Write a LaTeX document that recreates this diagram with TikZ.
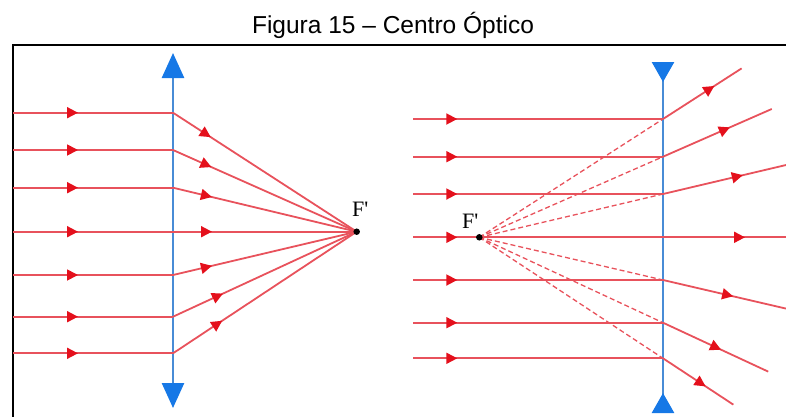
\documentclass[tikz,border=0pt]{standalone}
\usepackage{fontspec}
\setmainfont{Liberation Serif}
\newfontfamily\titulofont{Liberation Sans}
\usetikzlibrary{arrows.meta,calc,decorations.markings}
\definecolor{raio}{RGB}{232,82,92}
\definecolor{ponta}{RGB}{228,16,28}
\definecolor{lente}{RGB}{72,140,214}
\definecolor{setaazul}{RGB}{22,120,230}
\tikzset{
  raio/.style={draw=raio,line width=1.8pt},
  tracejado/.style={draw=raio,line width=1.3pt,dash pattern=on 5pt off 3pt},
  seta/.style={postaction={decorate},decoration={markings,
      mark=at position #1 with {\arrow{Triangle[length=11pt,width=11pt,color=ponta]}}}},
  eixo/.style={draw=lente,line width=2.6pt},
  foco/.style={circle,fill=black,inner sep=0pt,minimum size=6.5pt},
  rotulo/.style={font=\fontsize{22}{22}\selectfont,inner sep=0pt,anchor=base west},
}
\begin{document}
\begin{tikzpicture}[x=1pt,y=-1pt]
  \useasboundingbox (0,0) rectangle (786,416);
  \node[font=\titulofont\fontsize{24.5}{26}\selectfont,anchor=base] (titulo) at (393,33)
    {Figura 15 – Centro Óptico};
  \draw[line width=1.8pt] (13,420) -- (13,45) -- (790,45);

  % lente convergente
  \coordinate (F1) at (356.7,231.7);
  \draw[eixo,{Triangle[length=25pt,width=22pt,color=setaazul]}-{Triangle[length=25pt,width=22pt,color=setaazul]}]
    (173,408) -- (173,53);
  \foreach \y/\d [count=\i] in {112.7/45,150/42,187.7/40,231.7/39,275/40,316.7/55,353.3/59} {
    \coordinate (a\i) at (13,\y);
    \coordinate (l\i) at (173,\y);
    \path[raio,seta=65pt] (a\i) -- (l\i);
    \path[raio,seta=\d pt] (l\i) -- (F1);
  }
  \node[foco] (f1) at (F1) {};
  \node[rotulo] (rf1) at (352,216) {F\textquotesingle};

  % lente divergente
  \coordinate (F2) at (479.3,237.3);
  \draw[eixo,{Triangle[length=20pt,width=22pt,color=setaazul,reversed]}-{Triangle[length=20pt,width=22pt,color=setaazul,reversed]}]
    (663,413) -- (663,62);
  \foreach \y/\t/\d [count=\i] in {119/1.428/61,156.7/1.592/73,194/1.67/82,237.3/1.67/82,280/1.67/72,322.7/1.573/64,358.3/1.383/51} {
    \coordinate (b\i) at (413.3,\y);
    \coordinate (m\i) at (663,\y);
    \coordinate (s\i) at ($(F2)!\t!(m\i)$);
    \path[raio,seta=44pt] (b\i) -- (m\i);
    \path[raio,seta=\d pt] (m\i) -- (s\i);
  }
  \foreach \i in {1,2,3,5,6,7}
    \draw[tracejado] (F2) -- (m\i);
  \node[foco] (f2) at (F2) {};
  \node[rotulo] (rf2) at (462,228) {F\textquotesingle};
\end{tikzpicture}
\end{document}
